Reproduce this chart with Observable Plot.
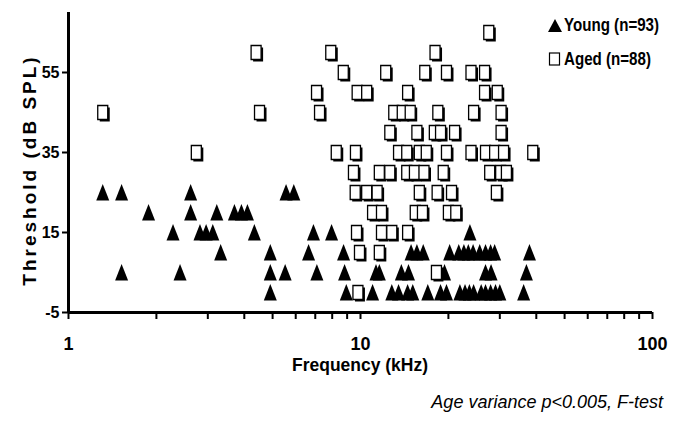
<!DOCTYPE html>
<html><head><meta charset="utf-8">
<script src="https://cdn.jsdelivr.net/npm/d3@7"></script>
<script src="https://cdn.jsdelivr.net/npm/@observablehq/plot@0.6"></script>
<style>
body{margin:0;background:#fff;}
#wrap{position:relative;width:677px;height:422px;overflow:hidden;font-family:"Liberation Sans",Arial,sans-serif;color:#000;}
#wrap > svg{position:absolute;left:0;top:0;}
.lbl{position:absolute;white-space:nowrap;font-weight:bold;}
#ylab{left:30px;top:170px;transform:translate(-50%,-50%) rotate(-90deg);font-size:19px;letter-spacing:3px;}
#xlab{left:360px;top:355px;line-height:1;transform:translateX(-50%) scaleX(0.92);font-size:19px;}
#legend{position:absolute;left:548px;top:8px;font-weight:bold;font-size:18px;line-height:34px;white-space:nowrap;}
#legend .row{display:flex;align-items:center;}
#legend .txt{display:inline-block;transform:scaleX(0.84);transform-origin:left center;margin-left:2px;}
#caption{position:absolute;right:14px;top:392px;font-style:italic;font-size:18px;white-space:nowrap;}
</style></head><body><div id="wrap"></div>
<script>
// Young (triangles): threshold rows and the frequencies (kHz) in each row
const youngThresholds = [25, 20, 15, 10, 5, 0];
const youngFrequencies = [
  [1.31, 1.52, 2.62, 5.56, 5.91],
  [1.88, 2.62, 3.22, 3.70, 3.91, 4.10],
  [2.28, 2.82, 2.96, 3.12, 4.33, 6.90, 7.96, 23.7],
  [3.32, 4.91, 6.64, 8.75, 14.9, 15.6, 16.4, 20.2, 21.7, 22.6, 23.4, 24.3, 25.6, 26.8, 27.9, 28.8, 37.9],
  [1.52, 2.41, 4.91, 5.52, 7.09, 8.82, 11.3, 11.6, 13.8, 14.6, 19.4, 26.8, 28.0, 37.0],
  [4.91, 8.94, 11.0, 12.8, 13.5, 14.5, 15.1, 17.0, 18.8, 19.7, 21.9, 22.8, 23.6, 24.4, 25.9, 26.8, 27.9, 29.0, 30.0, 36.2]
];
// Aged (squares)
const agedThresholds = [65, 60, 55, 50, 45, 40, 35, 30, 25, 20, 15, 10, 5, 0];
const agedFrequencies = [
  [27.5],
  [4.39, 7.91, 18.0],
  [8.73, 12.2, 16.6, 19.7, 23.9, 26.6],
  [7.07, 9.74, 10.5, 14.5, 26.6, 29.4],
  [1.31, 4.51, 7.24, 13.0, 13.9, 14.8, 18.4, 24.4, 30.3],
  [12.6, 15.6, 17.9, 18.8, 21.0, 30.3],
  [2.74, 8.26, 9.61, 13.5, 14.4, 15.9, 16.8, 19.7, 23.9, 26.8, 28.8, 30.9, 38.9],
  [9.46, 11.6, 12.6, 14.4, 15.3, 16.5, 19.2, 27.7, 30.2, 31.6],
  [9.59, 10.5, 11.4, 15.9, 18.3, 20.5, 29.2],
  [11.0, 11.8, 15.4, 16.3, 20.0, 21.2],
  [9.69, 11.8, 12.8, 14.5],
  [9.92, 11.6],
  [18.2],
  [9.80]
];
const xTicks = [1,2,3,4,5,6,7,8,9,10,20,30,40,50,60,70,80,90,100];
const xTickLabels = [1, 10, 100];
const yTicks = [-5, 15, 35, 55];
const seriesNames = ["Young (n=93)", "Aged (n=88)"];
const yLabel = "Threshold (dB SPL)";
const xLabel = "Frequency (kHz)";
const caption = "Age variance p<0.005, F-test";

const flat = (ths, fs) => ths.flatMap((t, i) => fs[i].map(f => ({freq: f, thr: t})));
const young = flat(youngThresholds, youngFrequencies);
const aged = flat(agedThresholds, agedFrequencies);

const triSym = {draw(c){c.moveTo(0,-8.5);c.lineTo(6.5,8);c.lineTo(-6.5,8);c.closePath();}};
const rectSym = {draw(c){c.moveTo(-5,-7);c.lineTo(5,-7);c.lineTo(5,7);c.lineTo(-5,7);c.closePath();}};

const chart = Plot.plot({
  width: 677, height: 380,
  marginLeft: 68, marginRight: 25, marginTop: 12, marginBottom: 68,
  x: {type: "log", domain: [1, 100]},
  y: {domain: [-5, 70]},
  style: {fontFamily: '"Liberation Sans",Arial,sans-serif', fontWeight: "bold", color: "black", background: "white"},
  marks: [
    Plot.axisX({ticks: xTicks, tickSize: 7, tickPadding: 18, strokeWidth: 2,
      tickFormat: d => xTickLabels.includes(d) ? String(d) : "", label: null, fontSize: 18}),
    Plot.axisY({ticks: yTicks, tickSize: 6, tickPadding: 3, strokeWidth: 2, label: null, fontSize: 16,
      tickFormat: d => String(d)}),
    Plot.ruleY([-5], {strokeWidth: 3}),
    Plot.ruleX([1], {strokeWidth: 3}),
    Plot.dot(young, {x: "freq", y: "thr", symbol: triSym, fill: "black", stroke: "none"}),
    Plot.dot(aged, {x: "freq", y: "thr", symbol: rectSym, fill: "black", stroke: "none", dx: 2, dy: 2}),
    Plot.dot(aged, {x: "freq", y: "thr", symbol: rectSym, fill: "white", stroke: "black", strokeWidth: 1.3})
  ]
});

const wrap = document.getElementById("wrap");
wrap.appendChild(chart);
const mk = (id, cls, txt) => { const d = document.createElement("div"); d.id = id; if (cls) d.className = cls; d.textContent = txt; wrap.appendChild(d); return d; };
mk("ylab", "lbl", yLabel);
mk("xlab", "lbl", xLabel);
mk("caption", "", caption);
const lg = document.createElement("div"); lg.id = "legend";
lg.innerHTML = `<div class="row"><svg width="14" height="13"><path d="M7,0L14,13L0,13Z" fill="black"/></svg><span class="txt">${seriesNames[0]}</span></div>` +
  `<div class="row"><svg width="14" height="14"><rect x="1.5" y="1" width="10" height="12" fill="white" stroke="black" stroke-width="1.2"/></svg><span class="txt">${seriesNames[1]}</span></div>`;
wrap.appendChild(lg);
</script></body></html>
